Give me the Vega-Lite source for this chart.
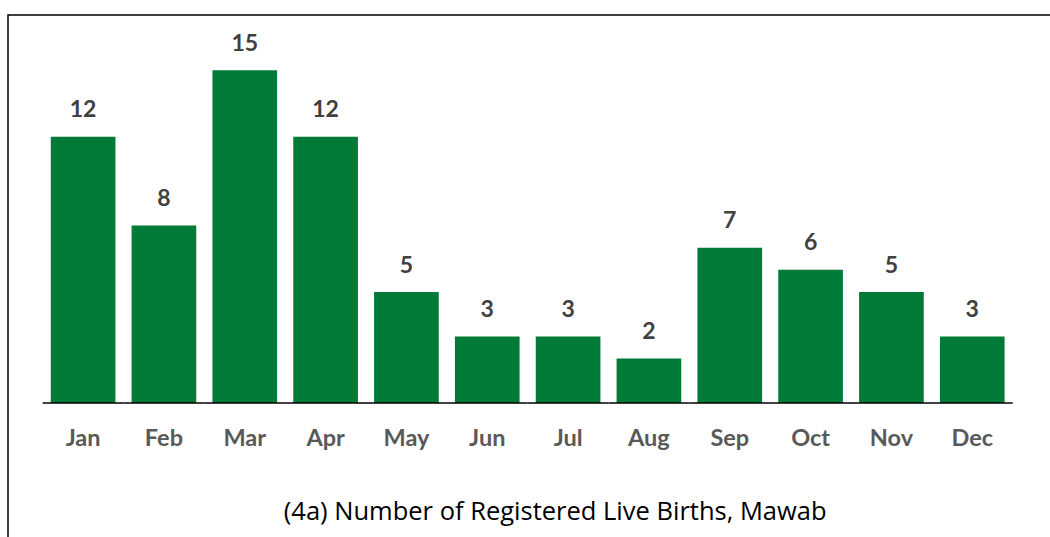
{
  "$schema": "https://vega.github.io/schema/vega-lite/v6.json",
  "width": 1072,
  "height": 545,
  "autosize": {"type": "none"},
  "padding": {"left": 8, "top": 15, "right": 0, "bottom": 0},
  "background": "white",
  "config": {"view": {"stroke": "#000000", "strokeWidth": 1.5}},
  "data": {
    "values": [
      {"month": "Jan", "births": 12},
      {"month": "Feb", "births": 8},
      {"month": "Mar", "births": 15},
      {"month": "Apr", "births": 12},
      {"month": "May", "births": 5},
      {"month": "Jun", "births": 3},
      {"month": "Jul", "births": 3},
      {"month": "Aug", "births": 2},
      {"month": "Sep", "births": 7},
      {"month": "Oct", "births": 6},
      {"month": "Nov", "births": 5},
      {"month": "Dec", "births": 3}
    ]
  },
  "layer": [
    {
      "mark": {"type": "bar", "color": "#007A37", "width": {"band": 0.8}},
      "encoding": {
        "x": {"field": "month", "type": "nominal", "sort": null,
          "scale": {"domain": ["Jan","Feb","Mar","Apr","May","Jun","Jul","Aug","Sep","Oct","Nov","Dec"], "paddingInner": 0, "paddingOuter": 0.631, "align": 0.34},
          "axis": null},
        "y": {"field": "births", "type": "quantitative",
          "scale": {"domain": [-7.075, 17.485], "nice": false, "zero": false},
          "axis": null}
      }
    },
    {
      "mark": {"type": "text", "font": "Lato", "fontWeight": "bold", "fontSize": 23, "color": "#404040", "baseline": "alphabetic", "dy": -19.4},
      "encoding": {
        "x": {"field": "month", "type": "nominal", "sort": null},
        "y": {"field": "births", "type": "quantitative"},
        "text": {"field": "births", "type": "quantitative"}
      }
    },
    {
      "mark": {"type": "text", "font": "Lato", "fontWeight": "bold", "fontSize": 23.5, "color": "#595959", "baseline": "alphabetic"},
      "encoding": {
        "x": {"field": "month", "type": "nominal", "sort": null},
        "y": {"datum": -1.96},
        "text": {"field": "month", "type": "nominal"}
      }
    },
    {
      "mark": {"type": "rule", "color": "#000000", "strokeWidth": 1.6},
      "encoding": {
        "x": {"field": "month", "type": "nominal", "sort": null, "bandPosition": 0},
        "x2": {"field": "month", "bandPosition": 1},
        "y": {"datum": 0}
      }
    },
    {
      "data": {"values": [{"t": "(4a) Number of Registered Live Births, Mawab"}]},
      "mark": {"type": "text", "font": "Open Sans", "fontSize": 25.5, "color": "#000000", "baseline": "alphabetic"},
      "encoding": {
        "x": {"datum": "Jul", "bandPosition": 0.34},
        "y": {"datum": -5.25},
        "text": {"field": "t", "type": "nominal"}
      }
    }
  ]
}
